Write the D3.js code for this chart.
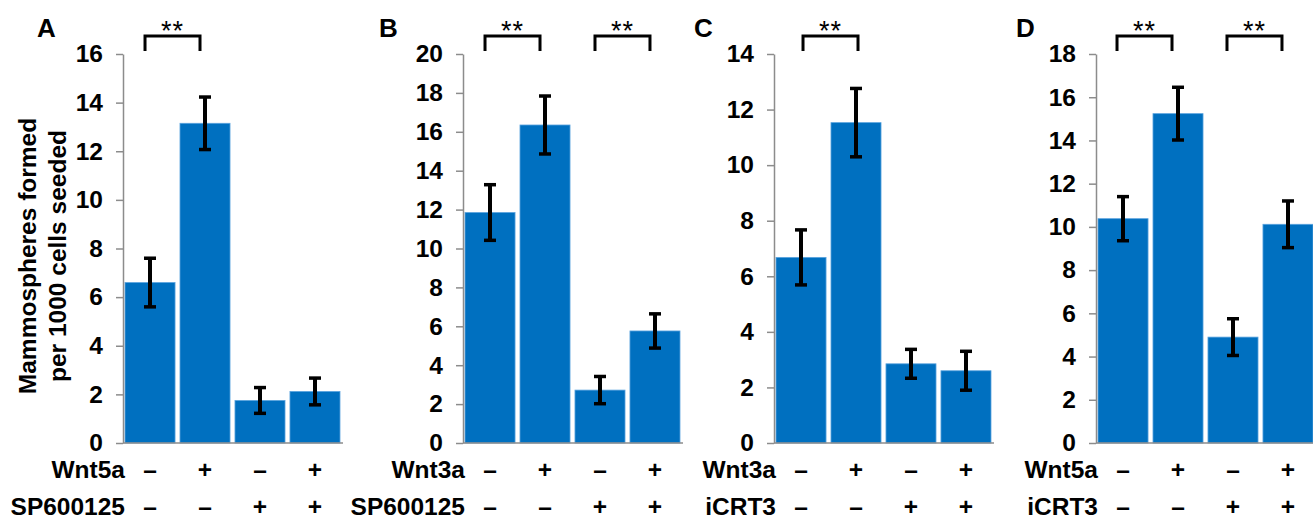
<!DOCTYPE html>
<html>
<head>
<meta charset="utf-8">
<script src="https://cdn.jsdelivr.net/npm/d3@7"></script>
<style>
  body { margin: 0; background: #fff; }
  svg { display: block; }
  text { font-family: "Liberation Sans", Arial, sans-serif; }
</style>
</head>
<body>
<script>
// Data
const panelLetters = ["A", "B", "C", "D"];
const agonists = ["Wnt5a", "Wnt3a", "Wnt3a", "Wnt5a"];
const inhibitors = ["SP600125", "SP600125", "iCRT3", "iCRT3"];
const agonistSigns = ["–", "+", "–", "+"];
const inhibitorSigns = ["–", "–", "+", "+"];
const yMaxes = [16, 20, 14, 18];

const meanA = [6.6, 13.15, 1.75, 2.12];
const errA = [1.0, 1.08, 0.53, 0.55];
const meanB = [11.85, 16.35, 2.72, 5.76];
const errB = [1.43, 1.49, 0.7, 0.88];
const meanC = [6.68, 11.53, 2.85, 2.6];
const errC = [0.99, 1.23, 0.52, 0.7];
const meanD = [10.38, 15.24, 4.9, 10.12];
const errD = [1.02, 1.22, 0.85, 1.08];

// significance brackets (bar index pairs)
const sigA = [[0, 1]];
const sigB = [[0, 1], [2, 3]];
const sigC = [[0, 1]];
const sigD = [[0, 1], [2, 3]];

// Layout
const width = 1313, height = 520;
const axisX = [123, 463, 774, 1096];
const letterX = [37, 379, 694, 1016];
const bracketShift = [-5, -5, 2, -6];
const yTop = 54, yBottom = 443;
const fontSize = 24.5;
const barColor = "#0070C0";

const panels = [
  { mean: meanA, err: errA, sig: sigA },
  { mean: meanB, err: errB, sig: sigB },
  { mean: meanC, err: errC, sig: sigC },
  { mean: meanD, err: errD, sig: sigD }
];

const svg = d3.select("body")
  .append("svg")
  .attr("width", width)
  .attr("height", height);

panels.forEach((p, i) => {
  const ax = axisX[i];

  const x = d3.scaleBand()
    .domain(d3.range(p.mean.length))
    .range([ax + 2, ax + 217])
    .paddingInner(0.09)
    .paddingOuter(0);

  const y = d3.scaleLinear()
    .domain([0, yMaxes[i]])
    .range([yBottom, yTop]);

  const g = svg.append("g");

  // bars
  g.selectAll("rect.bar")
    .data(p.mean)
    .join("rect")
    .attr("class", "bar")
    .attr("x", (d, j) => x(j))
    .attr("y", d => y(d))
    .attr("width", x.bandwidth())
    .attr("height", d => y(0) - y(d))
    .attr("fill", barColor)
    .attr("stroke", "#5aa3de")
    .attr("stroke-width", 0.8);

  // baseline
  g.append("line")
    .attr("x1", ax)
    .attr("x2", ax + 220)
    .attr("y1", y(0))
    .attr("y2", y(0))
    .attr("stroke", "#8c8c8c")
    .attr("stroke-width", 1.5);

  // y axis
  const yAxis = g.append("g")
    .attr("transform", `translate(${ax},0)`)
    .call(d3.axisLeft(y)
      .tickValues(d3.range(0, yMaxes[i] + 1, 2))
      .tickSize(7)
      .tickSizeOuter(0)
      .tickPadding(13));
  yAxis.select(".domain").attr("stroke", "#8c8c8c").attr("stroke-width", 1.5);
  yAxis.selectAll(".tick line").attr("stroke", "#8c8c8c").attr("stroke-width", 1.5);
  yAxis.selectAll(".tick text")
    .attr("font-size", fontSize)
    .attr("font-weight", "bold")
    .attr("font-family", "'Liberation Sans', Arial, sans-serif")
    .attr("fill", "#000");

  // error bars
  const cap = 6;
  const eb = g.selectAll("g.err")
    .data(p.mean.map((m, j) => ({ m, e: p.err[j], j })))
    .join("g")
    .attr("class", "err")
    .attr("stroke", "#000")
    .attr("stroke-width", 4);
  eb.append("line")
    .attr("x1", d => x(d.j) + x.bandwidth() / 2)
    .attr("x2", d => x(d.j) + x.bandwidth() / 2)
    .attr("y1", d => y(d.m + d.e))
    .attr("y2", d => y(d.m - d.e));
  eb.append("line")
    .attr("x1", d => x(d.j) + x.bandwidth() / 2 - cap)
    .attr("x2", d => x(d.j) + x.bandwidth() / 2 + cap)
    .attr("y1", d => y(d.m + d.e))
    .attr("y2", d => y(d.m + d.e))
    .attr("stroke-width", 3.5);
  eb.append("line")
    .attr("x1", d => x(d.j) + x.bandwidth() / 2 - cap)
    .attr("x2", d => x(d.j) + x.bandwidth() / 2 + cap)
    .attr("y1", d => y(d.m - d.e))
    .attr("y2", d => y(d.m - d.e))
    .attr("stroke-width", 3.5);

  // significance brackets
  p.sig.forEach(([a, b]) => {
    const x1 = x(a) + x.bandwidth() / 2 + bracketShift[i];
    const x2 = x(b) + x.bandwidth() / 2 + bracketShift[i];
    g.append("path")
      .attr("d", `M${x1},51V36H${x2}V51`)
      .attr("fill", "none")
      .attr("stroke", "#000")
      .attr("stroke-width", 3);
    g.append("text")
      .attr("x", (x1 + x2) / 2)
      .attr("y", 40)
      .attr("text-anchor", "middle")
      .attr("font-size", 27)
      .attr("letter-spacing", 1)
      .text("**");
  });

  // panel letter
  g.append("text")
    .attr("x", letterX[i])
    .attr("y", 37)
    .attr("font-size", 26)
    .attr("font-weight", "bold")
    .text(panelLetters[i]);

  // treatment rows
  [[agonists[i], agonistSigns, 478], [inhibitors[i], inhibitorSigns, 515]].forEach(([label, signs, yy]) => {
    g.append("text")
      .attr("x", ax + 2)
      .attr("y", yy)
      .attr("text-anchor", "end")
      .attr("font-size", fontSize)
      .attr("font-weight", "bold")
      .text(label);
    g.selectAll(null)
      .data(signs)
      .join("text")
      .attr("x", (d, j) => x(j) + x.bandwidth() / 2)
      .attr("y", yy)
      .attr("text-anchor", "middle")
      .attr("font-size", fontSize)
      .attr("font-weight", "bold")
      .text(d => d);
  });
});

// y axis title (panel A only)
const yTitle = ["Mammospheres formed", "per 1000 cells seeded"];
svg.selectAll("text.ytitle")
  .data(yTitle)
  .join("text")
  .attr("class", "ytitle")
  .attr("transform", (d, k) => `translate(${36 + k * 30},256) rotate(-90)`)
  .attr("text-anchor", "middle")
  .attr("font-size", 24.5)
  .attr("font-weight", "bold")
  .text(d => d);
</script>
</body>
</html>
